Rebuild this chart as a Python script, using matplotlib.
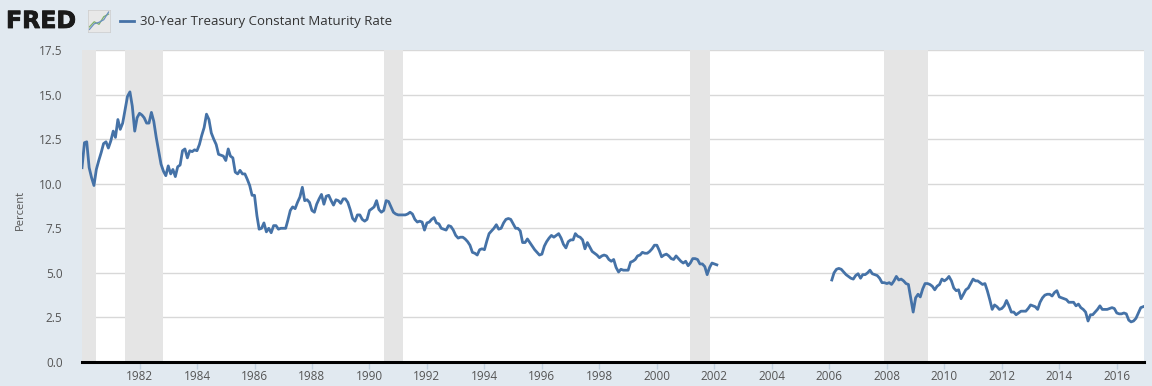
import matplotlib
matplotlib.use('Agg')
import matplotlib.pyplot as plt
import matplotlib.dates as mdates
import matplotlib.patheffects as pe
import numpy as np
import pandas as pd

plt.rcParams['font.family'] = ['Open Sans', 'DejaVu Sans']

# monthly 30-year treasury rate, Jan 1980 - Feb 2002
rate_1980_2002 = [
    10.9, 12.3, 12.35, 10.9, 10.35, 9.9, 10.8, 11.3, 11.75, 12.25, 12.35, 12.0,
    12.4, 12.95, 12.6, 13.6, 13.05, 13.4, 14.15, 14.9, 15.15, 14.35, 12.95, 13.7,
    13.95, 13.85, 13.7, 13.4, 13.4, 14.0, 13.5, 12.6, 11.85, 11.1, 10.7, 10.45,
    11.0, 10.55, 10.8, 10.4, 10.95, 11.05, 11.85, 11.95, 11.45, 11.85, 11.8, 11.9,
    11.85, 12.2, 12.7, 13.15, 13.9, 13.6, 12.85, 12.5, 12.2, 11.65, 11.6, 11.55,
    11.3, 11.95, 11.55, 11.45, 10.65, 10.55, 10.75, 10.55, 10.55, 10.25, 9.9, 9.35,
    9.35, 8.2, 7.45, 7.5, 7.8, 7.3, 7.5, 7.25, 7.65, 7.65, 7.45, 7.5,
    7.5, 7.5, 7.95, 8.5, 8.7, 8.6, 8.95, 9.25, 9.8, 9.05, 9.1, 8.95,
    8.5, 8.4, 8.85, 9.15, 9.4, 8.85, 9.3, 9.35, 9.05, 8.8, 9.1, 9.05,
    8.9, 9.15, 9.15, 8.95, 8.55, 8.05, 7.9, 8.25, 8.25, 8.0, 7.9, 8.0,
    8.5, 8.6, 8.7, 9.05, 8.55, 8.4, 8.5, 9.05, 9.0, 8.7, 8.4, 8.3,
    8.25, 8.25, 8.25, 8.25, 8.3, 8.4, 8.3, 8.0, 7.85, 7.9, 7.85, 7.4,
    7.8, 7.85, 8.0, 8.1, 7.8, 7.75, 7.5, 7.45, 7.4, 7.65, 7.6, 7.4,
    7.1, 6.95, 7.0, 7.0, 6.9, 6.75, 6.55, 6.15, 6.1, 6.0, 6.3, 6.35,
    6.3, 6.8, 7.2, 7.35, 7.5, 7.7, 7.45, 7.5, 7.8, 8.0, 8.05, 8.0,
    7.75, 7.5, 7.5, 7.35, 6.7, 6.7, 6.9, 6.7, 6.5, 6.3, 6.15, 6.0,
    6.05, 6.5, 6.75, 6.95, 7.1, 7.0, 7.1, 7.2, 6.95, 6.6, 6.4, 6.75,
    6.85, 6.85, 7.2, 7.05, 7.0, 6.85, 6.35, 6.7, 6.45, 6.2, 6.1, 6.0,
    5.85, 5.95, 6.0, 5.95, 5.75, 5.65, 5.75, 5.3, 5.05, 5.2, 5.15, 5.15,
    5.15, 5.6, 5.65, 5.75, 5.95, 6.0, 6.15, 6.1, 6.1, 6.2, 6.35, 6.55,
    6.55, 6.25, 5.9, 6.0, 6.05, 5.95, 5.8, 5.75, 5.95, 5.8, 5.65, 5.55,
    5.65, 5.4, 5.55, 5.8, 5.8, 5.75, 5.5, 5.5, 5.35, 4.9, 5.3, 5.55,
    5.5, 5.45,
]

# monthly 30-year treasury rate, Feb 2006 - Dec 2016
rate_2006_2016 = [
    4.6, 5.0, 5.2, 5.25, 5.2, 5.05, 4.9, 4.8, 4.7, 4.65, 4.85,
    4.95, 4.7, 4.9, 4.9, 5.0, 5.15, 4.95, 4.9, 4.85, 4.7, 4.45, 4.45,
    4.4, 4.45, 4.35, 4.55, 4.8, 4.6, 4.65, 4.55, 4.4, 4.35, 3.55, 2.8,
    3.6, 3.8, 3.65, 4.1, 4.4, 4.4, 4.35, 4.25, 4.05, 4.25, 4.35, 4.65,
    4.55, 4.65, 4.8, 4.55, 4.15, 4.0, 4.05, 3.55, 3.8, 4.05, 4.15, 4.4,
    4.65, 4.55, 4.55, 4.45, 4.35, 4.4, 4.0, 3.5, 2.95, 3.2, 3.1, 2.95,
    3.0, 3.15, 3.45, 3.15, 2.8, 2.8, 2.65, 2.75, 2.85, 2.85, 2.85, 3.0,
    3.2, 3.15, 3.1, 2.95, 3.35, 3.6, 3.75, 3.8, 3.8, 3.7, 3.9, 4.0,
    3.65, 3.6, 3.55, 3.5, 3.35, 3.35, 3.35, 3.15, 3.25, 3.05, 2.95, 2.8,
    2.3, 2.65, 2.65, 2.8, 2.95, 3.15, 2.95, 2.95, 2.95, 3.0, 3.05, 3.0,
    2.75, 2.7, 2.7, 2.75, 2.7, 2.35, 2.25, 2.3, 2.45, 2.75, 3.05, 3.1,
]

dates_1 = pd.date_range('1980-01-01', periods=len(rate_1980_2002), freq='MS')
dates_2 = pd.date_range('2006-02-01', periods=len(rate_2006_2016), freq='MS')

# NBER recessions
recession_starts = ['1980-01-01', '1981-07-01', '1990-07-01', '2001-03-01', '2007-12-01']
recession_ends = ['1980-07-01', '1982-11-01', '1991-03-01', '2001-11-01', '2009-06-01']

y_ticks = [0.0, 2.5, 5.0, 7.5, 10.0, 12.5, 15.0, 17.5]
x_tick_years = list(range(1982, 2017, 2))

bg = '#e1e9f0'
line_color = '#4572a7'
W, H = 1152, 386

fig = plt.figure(figsize=(W / 100, H / 100), dpi=100, facecolor=bg)
ax = fig.add_axes([82 / W, (H - 362) / H, (1144 - 82) / W, (362 - 50) / H])
ax.set_facecolor('white')

for s, e in zip(recession_starts, recession_ends):
    ax.axvspan(pd.Timestamp(s), pd.Timestamp(e), color='#e5e5e5', lw=0, zorder=1)

ax.plot(dates_1, rate_1980_2002, color=line_color, lw=2, zorder=3)
ax.plot(dates_2, rate_2006_2016, color=line_color, lw=2, zorder=3)

ax.set_ylim(0, 17.5)
ax.set_xlim(pd.Timestamp('1980-01-01'), pd.Timestamp('2016-12-12'))
ax.set_yticks(y_ticks)
ax.set_yticklabels(['%.1f' % v for v in y_ticks])
ax.set_xticks([pd.Timestamp('%d-01-01' % y) for y in x_tick_years])
ax.xaxis.set_major_formatter(mdates.DateFormatter('%Y'))

ax.grid(axis='y', color='#d8d8d8', lw=1, zorder=0)
ax.set_axisbelow(True)
for side in ['left', 'right', 'top']:
    ax.spines[side].set_visible(False)
ax.spines['bottom'].set_color('black')
ax.spines['bottom'].set_linewidth(2.2)
ax.spines['bottom'].set_zorder(5)

ax.tick_params(axis='y', length=0, pad=14, labelsize=8.5, labelcolor='#555555')
ax.tick_params(axis='x', length=5, width=1, color='#c0d0e0', pad=0.5,
               labelsize=8.5, labelcolor='#555555')

fig.text(20 / W, 1 - 210 / H, 'Percent', rotation=90, ha='center', va='center',
         fontsize=8, color='#555555')

# header: logo and legend
fig.text(6 / W, 1 - 21 / H, 'FRED', fontsize=17, fontweight='heavy',
         family='DejaVu Sans', color='#1a1a1a', ha='left', va='center',
         path_effects=[pe.withStroke(linewidth=0.6, foreground='#1a1a1a')])
icon = fig.add_axes([88 / W, 1 - 32 / H, 22 / W, 22 / H])
icon.set_facecolor('#e8e8e8')
icon.plot([0, 1, 2, 3, 4], [1, 2, 1.5, 3, 3.5], color='#7fb069', lw=0.9)
icon.plot([0, 1, 2, 3, 4], [0.5, 1.6, 1.9, 2.4, 3.9], color='#6a8fc0', lw=0.9)
icon.set_xlim(-0.3, 4.3)
icon.set_ylim(0, 4.3)
icon.set_xticks([])
icon.set_yticks([])
for sp in icon.spines.values():
    sp.set_color('#cccccc')
    sp.set_linewidth(0.5)

fig.lines.append(plt.Line2D([120 / W, 134 / W], [1 - 21 / H, 1 - 21 / H],
                            transform=fig.transFigure, color=line_color, lw=2))
fig.text(140 / W, 1 - 21 / H, '30-Year Treasury Constant Maturity Rate',
         fontsize=9.5, color='#333333', ha='left', va='center')

fig.savefig('out.png', dpi=100, facecolor=bg)
